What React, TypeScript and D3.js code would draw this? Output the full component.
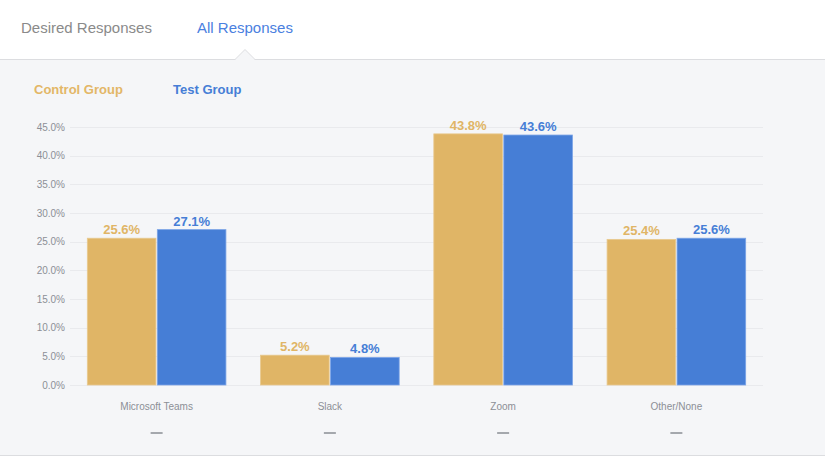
import { useRef, useEffect } from "react";
import * as d3 from "d3";

const categories = ["Microsoft Teams", "Slack", "Zoom", "Other/None"];
const controlValues = [25.6, 5.2, 43.8, 25.4];
const testValues = [27.1, 4.8, 43.6, 25.6];
const seriesNames = ["Control Group", "Test Group"];
const yTicks = [0, 5, 10, 15, 20, 25, 30, 35, 40, 45];

const CONTROL = "#e0b566";
const TEST = "#467ed6";

function App() {
  const svgRef = useRef<SVGSVGElement>(null);

  useEffect(() => {
    const width = 825;
    const height = 460;
    const svg = d3.select(svgRef.current);
    svg.selectAll("*").remove();
    svg.attr("width", width).attr("height", height);

    const font = "'Liberation Sans', Arial, Helvetica, sans-serif";

    // header + panel background
    svg.append("rect").attr("width", width).attr("height", height).attr("fill", "#fff");
    svg.append("rect").attr("x", 0).attr("y", 59.5).attr("width", width).attr("height", 396)
      .attr("fill", "#f5f6f8");
    svg.append("line").attr("x1", 0).attr("x2", width).attr("y1", 59.5).attr("y2", 59.5)
      .attr("stroke", "#dcdde0");
    svg.append("line").attr("x1", 0).attr("x2", width).attr("y1", 455.5).attr("y2", 455.5)
      .attr("stroke", "#dcdde0");
    // notch under active tab
    svg.append("path")
      .attr("d", "M235,60 L245,49.5 L255,60 Z")
      .attr("fill", "#f5f6f8");
    svg.append("path")
      .attr("d", "M235,59.5 L245,49.5 L255,59.5")
      .attr("fill", "none").attr("stroke", "#dcdde0");

    // tabs
    svg.append("text").attr("x", 21).attr("y", 33).text("Desired Responses")
      .attr("font-family", font).attr("font-size", 15).attr("fill", "#8a8a8a");
    svg.append("text").attr("x", 197).attr("y", 33).text("All Responses")
      .attr("font-family", font).attr("font-size", 15).attr("fill", "#4a80e0");

    // legend
    const legendX = [34, 173];
    seriesNames.forEach((n, i) => {
      svg.append("text").attr("x", legendX[i]).attr("y", 94).text(n)
        .attr("font-family", font).attr("font-size", 13).attr("font-weight", "bold")
        .attr("fill", i === 0 ? "#e3b767" : TEST);
    });

    const left = 70, right = 763, top = 127, bottom = 385;
    const y = d3.scaleLinear().domain([0, 45]).range([bottom, top]);
    const x = d3.scaleBand().domain(categories).range([left, right]).paddingInner(0.2).paddingOuter(0.1);
    const x1 = d3.scaleBand().domain(seriesNames).range([0, x.bandwidth()]).paddingInner(0.02);

    // grid
    svg.append("g").selectAll("line").data(yTicks).join("line")
      .attr("x1", left).attr("x2", right)
      .attr("y1", (d) => Math.round(y(d)) + 0.5).attr("y2", (d) => Math.round(y(d)) + 0.5)
      .attr("stroke", "#e9eaed");
    svg.append("g").selectAll("text").data(yTicks).join("text")
      .attr("x", 65).attr("y", (d) => y(d) + 3.5).attr("text-anchor", "end")
      .attr("font-family", font).attr("font-size", 10).attr("fill", "#8c8f96")
      .text((d) => d.toFixed(1) + "%");

    const series = [controlValues, testValues];
    const colors = [CONTROL, TEST];
    series.forEach((vals, si) => {
      const g = svg.append("g");
      g.selectAll("rect").data(vals).join("rect")
        .attr("x", (_, i) => x(categories[i])! + x1(seriesNames[si])!)
        .attr("y", (d) => y(d))
        .attr("width", x1.bandwidth())
        .attr("height", (d) => bottom - y(d))
        .attr("fill", colors[si])
        .attr("stroke", si === 0 ? "#e8c98e" : "#7aa3e6")
        .attr("stroke-width", 0.8);
      g.selectAll("text").data(vals).join("text")
        .attr("x", (_, i) => x(categories[i])! + x1(seriesNames[si])! + x1.bandwidth() / 2)
        .attr("y", (d) => y(d) - 4)
        .attr("text-anchor", "middle")
        .attr("font-family", font).attr("font-size", 13).attr("font-weight", "bold")
        .attr("fill", colors[si])
        .text((d) => d.toFixed(1) + "%");
    });

    // category labels
    const cats = svg.append("g");
    cats.selectAll("text.cat").data(categories).join("text")
      .attr("class", "cat")
      .attr("x", (d) => x(d)! + x.bandwidth() / 2).attr("y", 410)
      .attr("text-anchor", "middle")
      .attr("font-family", font).attr("font-size", 10).attr("fill", "#8c8f96")
      .text((d) => d);
    cats.selectAll("line.dash").data(categories).join("line")
      .attr("class", "dash")
      .attr("x1", (d) => x(d)! + x.bandwidth() / 2 - 6)
      .attr("x2", (d) => x(d)! + x.bandwidth() / 2 + 6)
      .attr("y1", 433).attr("y2", 433)
      .attr("stroke", "#555a63").attr("stroke-width", 1);
  }, []);

  return (
    <div style={{ position: "absolute", left: 0, top: 0 }}>
      <svg ref={svgRef} style={{ display: "block" }} />
    </div>
  );
}

export default App;
